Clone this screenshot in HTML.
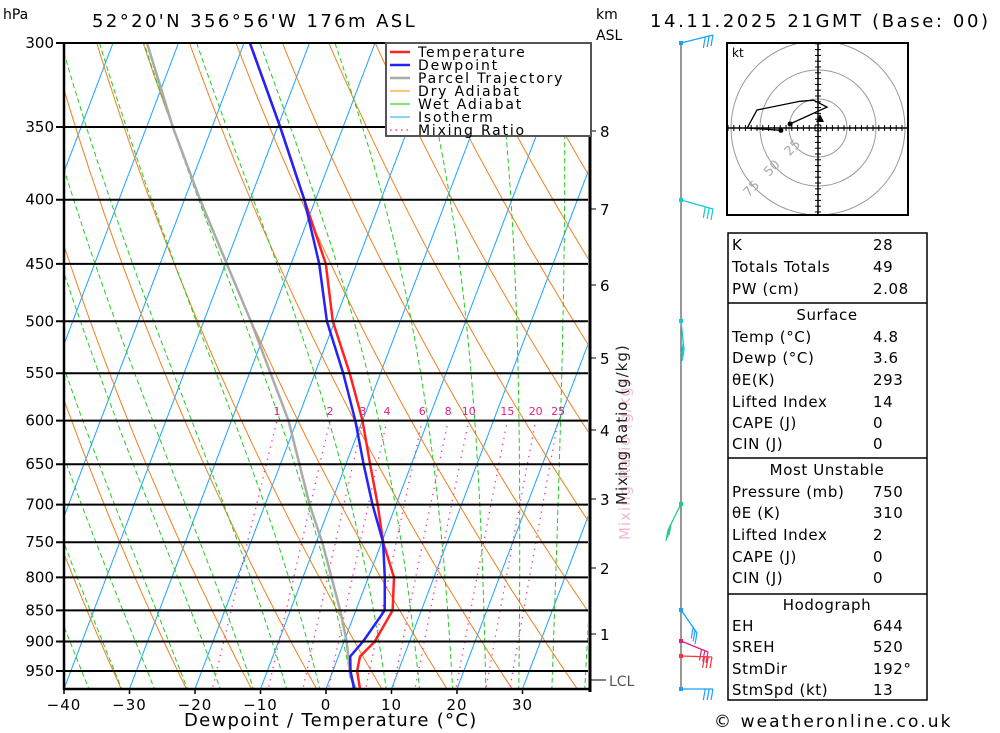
<!DOCTYPE html>
<html><head><meta charset="utf-8"><style>
body{margin:0;background:#fff;}
svg{display:block;font-family:"DejaVu Sans","Liberation Sans",sans-serif;}
</style></head><body>
<svg id="c" width="1000" height="733" viewBox="0 0 1000 733" xmlns="http://www.w3.org/2000/svg">
<defs><clipPath id="pc"><rect x="64" y="43" width="524" height="646"/></clipPath>
<clipPath id="hc"><rect x="728" y="44" width="180" height="170"/></clipPath></defs>
<g id="bg" clip-path="url(#pc)"></g>
<g id="fg"></g>
<text x="3" y="19" font-size="14">hPa</text>
<text x="92" y="27" font-size="18" letter-spacing="2.4">52°20'N  356°56'W  176m  ASL</text>
<text x="596" y="19" font-size="14">km</text>
<text x="596" y="40" font-size="14">ASL</text>
<text x="650" y="27" font-size="18" letter-spacing="2.6">14.11.2025  21GMT  (Base: 00)</text>
<text x="184" y="726" font-size="18" letter-spacing="1.3">Dewpoint / Temperature (°C)</text>
<text x="714" y="727" font-size="17" letter-spacing="2.1">© weatheronline.co.uk</text>
<text transform="translate(630,540) rotate(-90)" font-size="15" letter-spacing="1" fill="#f4b8d4">Mixing Ratio (g/kg)</text>
<text transform="translate(627,505) rotate(-90)" font-size="15" letter-spacing="1" fill="#222">Mixing Ratio (g/kg)</text>
<g>
<rect x="386" y="43" width="205" height="93" fill="#fff" stroke="#555" stroke-width="2"/>
<g font-size="14" letter-spacing="1.8">
<line x1="390" y1="52" x2="410" y2="52" stroke="#f22" stroke-width="2.5"/><text x="418" y="57">Temperature</text>
<line x1="390" y1="65" x2="410" y2="65" stroke="#22f" stroke-width="2.5"/><text x="418" y="70">Dewpoint</text>
<line x1="390" y1="78" x2="410" y2="78" stroke="#aaa" stroke-width="2.5"/><text x="418" y="83">Parcel Trajectory</text>
<line x1="390" y1="91" x2="410" y2="91" stroke="#f80" stroke-width="1"/><text x="418" y="96">Dry Adiabat</text>
<line x1="390" y1="104" x2="410" y2="104" stroke="#0c0" stroke-width="1"/><text x="418" y="109">Wet Adiabat</text>
<line x1="390" y1="117" x2="410" y2="117" stroke="#1af" stroke-width="1"/><text x="418" y="122">Isotherm</text>
<line x1="390" y1="130" x2="410" y2="130" stroke="#f3a" stroke-width="1.5" stroke-dasharray="1.5,4"/><text x="418" y="135">Mixing Ratio</text>
</g></g>
<g id="hodo"></g>
<g id="tbl"></g>
<g id="wind"></g>
</svg>
<script>
const pressures=[982,950,925,900,850,800,750,700,650,600,550,500,450,400,350,300];
const tempVals=[5.2,3.7,3.3,4.7,5.6,3.9,0.2,-2.8,-6.3,-10.0,-14.7,-20.3,-24.7,-31.7,-39.6,-49.1];
const dewVals=[4.3,2.7,1.8,2.9,4.4,2.5,0.2,-3.6,-7.3,-11.1,-15.7,-21.2,-25.7,-31.7,-39.6,-49.1];
const parcelP=[982,960,900,850,750,700,600,500,450,400,350,300];
const parcelT=[4.6,3.0,0.4,-2.4,-9.1,-13.2,-21.3,-32.8,-39.8,-47.6,-56,-64.8];
const pTicks=[300,350,400,450,500,550,600,650,700,750,800,850,900,950];
const tTicks=[-40,-30,-20,-10,0,10,20,30];
const mixRatios=[1,2,3,4,6,8,10,15,20,25];
const kmTicks=[8,7,6,5,4,3,2,1];
const kmY=[131,209,285,358,430,499,568,634];
const hodoU=[-32,-61,-52.6,-15.5,-4,7.8,-24];
const hodoV=[-2,0,15.5,23,24,18,3.5];
const tableLabels=["K","Totals Totals","PW (cm)","Surface","Temp (°C)","Dewp (°C)","θE(K)","Lifted Index","CAPE (J)","CIN (J)","Most Unstable","Pressure (mb)","θE (K)","Lifted Index","CAPE (J)","CIN (J)","Hodograph","EH","SREH","StmDir","StmSpd (kt)"];
const tableValues=["28","49","2.08","","4.8","3.6","293","14","0","0","","750","310","2","0","0","","644","520","192°","13"];

const NS="http://www.w3.org/2000/svg";
const yP=p=>43+544.8*Math.log(p/300);
const xT=(t,p)=>326+6.55*t+0.38*(689-yP(p));
function mk(tag,attrs,parent){const e=document.createElementNS(NS,tag);for(const k in attrs)e.setAttribute(k,attrs[k]);parent.appendChild(e);return e;}
const bg=document.getElementById('bg'),fg=document.getElementById('fg');
function poly(pts,stroke,w,dash,parent){let d=pts.map((q,i)=>(i?'L':'M')+q[0].toFixed(1)+','+q[1].toFixed(1)).join('');const a={d:d,fill:'none',stroke:stroke,'stroke-width':w};if(dash)a['stroke-dasharray']=dash;return mk('path',a,parent);}
for(let t=-120;t<=50;t+=10){const e=poly([[xT(t,1000),yP(1000)],[xT(t,280),yP(280)]],'#1aa3ff',1,null,bg);

}
for(let th=-40;th<=200;th+=10){const pts=[];for(let p=1000;p>=280;p-=10){const T=(th+273.15)*Math.pow(p/1000,0.286)-273.15;pts.push([xT(T,p),yP(p)]);}
const e=poly(pts,'#f08020',1,null,bg);

}
function es(T){return 6.112*Math.exp(17.67*T/(T+243.5));}
for(let tw=-35;tw<=40;tw+=5){let T=tw,pts=[];for(let p=1000;p>=280;p-=5){pts.push([xT(T,p),yP(p)]);const Tk=T+273.15,rs=0.622*es(T)/(p-es(T)),L=2.5e6;
const dTdp=(287*Tk+L*rs)/(p*(1004+L*L*rs*0.622/(287*Tk*Tk)));T-=dTdp*5;}
const e=poly(pts,'#22cc22',1,'5,3',bg);

}
function tdw(w,p){const e=w*p/(622+w);const l=Math.log(e/6.112);return 243.5*l/(17.67-l);}
mixRatios.forEach(w=>{const pts=[];for(let p=1000;p>=600;p-=20)pts.push([xT(tdw(w,p),p),yP(p)]);
const e=poly(pts,'#ff2a9a',1.3,'1.3,5',bg);


const t=mk('text',{x:xT(tdw(w,600),600),y:415,'font-size':11,fill:'#e0208a','text-anchor':'middle'},fg);t.textContent=w;

});
pTicks.forEach(p=>{const y=yP(p);const l=mk('line',{x1:56,x2:588,y1:y,y2:y,stroke:'#000','stroke-width':2},fg);


const t=mk('text',{x:54,y:y+5,'font-size':15,'text-anchor':'end'},fg);t.textContent=p;

});
let e=poly(parcelP.map((p,i)=>[xT(parcelT[i],p),yP(p)]),'#aaa',2.5,null,bg);


e=poly(pressures.map((p,i)=>[xT(tempVals[i],p),yP(p)]),'#f22',2.5,null,bg);


e=poly(pressures.map((p,i)=>[xT(dewVals[i],p),yP(p)]),'#22f',2.5,null,bg);


mk('line',{x1:64,x2:64,y1:43,y2:690,stroke:'#000','stroke-width':2.5},fg);
mk('line',{x1:63,x2:590,y1:689,y2:689,stroke:'#000','stroke-width':2.5},fg);
mk('line',{x1:590,x2:590,y1:43,y2:692,stroke:'#000','stroke-width':3},fg);
tTicks.forEach(t=>{const x=326+6.55*t;mk('line',{x1:x,x2:x,y1:689,y2:694,stroke:'#000','stroke-width':1.5},fg);
const s=mk('text',{x:x,y:710,'font-size':15,'text-anchor':'middle','letter-spacing':1},fg);s.textContent=t<0?'\u2212'+(-t):t;

});
kmTicks.forEach((k,i)=>{mk('line',{x1:590,x2:596,y1:kmY[i],y2:kmY[i],stroke:'#000'},fg);
const s=mk('text',{x:600,y:kmY[i]+6,'font-size':15},fg);s.textContent=k;

});
mk('line',{x1:590,x2:606,y1:680,y2:680,stroke:'#000'},fg);
let lc=mk('text',{x:609,y:686,'font-size':14,fill:'#555'},fg);lc.textContent='LCL';


const wg=document.getElementById('wind');
mk('line',{x1:681,x2:681,y1:43,y2:689,stroke:'#555','stroke-width':1.2},wg);
const barbs=[[43,713,35,'#1a9fff'],[200,713,209,'#1cc'],[321,684,350,'#1cc'],[504,668,530,'#2c8'],[610,697,633,'#1a9fff'],[641,708,652,'#e0207a'],[656,712,657,'#f33'],[689,713,689,'#1a9fff']];
barbs.forEach(b=>{mk('rect',{x:679,y:b[0]-2,width:4,height:4,fill:b[3]},wg);mk('line',{x1:681,y1:b[0],x2:b[1],y2:b[2],stroke:b[3],'stroke-width':1.3},wg);
for(let k=0;k<3;k++){const f=1-k*0.12;const x=681+(b[1]-681)*f,y=b[0]+(b[2]-b[0])*f;mk('line',{x1:x,y1:y,x2:x-2,y2:y+11,stroke:b[3],'stroke-width':1.2},wg);}});
const hg=document.getElementById('hodo');const cx=818,cy=128,sc=29/25;
mk('rect',{x:727,y:43,width:181,height:172,fill:'#fff',stroke:'#000','stroke-width':2},hg);
const hi=mk('g',{'clip-path':'url(#hc)'},hg);
[1,2,3].forEach(r=>mk('circle',{cx:cx,cy:cy,r:29*r,fill:'none',stroke:'#999'},hi));
mk('line',{x1:728,x2:908,y1:cy,y2:cy,stroke:'#000','stroke-width':1.5},hi);
mk('line',{x1:cx,x2:cx,y1:44,y2:214,stroke:'#000','stroke-width':1.5},hi);
for(let d=-90;d<=90;d+=5.8){mk('line',{x1:cx+d,x2:cx+d,y1:cy-3,y2:cy+3,stroke:'#000'},hi);mk('line',{x1:cx-3,x2:cx+3,y1:cy+d,y2:cy+d,stroke:'#000'},hi);}
['25','50','75'].forEach((s,i)=>{const r=29*(i+1)+3;const t=mk('text',{transform:`translate(${cx-r*0.707},${cy+r*0.707}) rotate(-45)`,'font-size':13,fill:'#aaa','text-anchor':'middle'},hi);t.textContent=s;});
let hp=poly(hodoU.map((u,i)=>[cx+u*sc,cy-hodoV[i]*sc]),'#000',1.3,null,hi);


mk('circle',{cx:cx+hodoU[0]*sc,cy:cy-hodoV[0]*sc,r:2.5},hi);
mk('circle',{cx:cx+hodoU[hodoU.length-1]*sc,cy:cy-hodoV[hodoV.length-1]*sc,r:2.5},hi);
mk('path',{d:`M${cx+2},${cy-14}l-4,8h8z`},hi);
let kt=mk('text',{x:732,y:57,'font-size':12},hg);kt.textContent='kt';
const tg=document.getElementById('tbl');
mk('rect',{x:728,y:233,width:199,height:467,fill:'#fff',stroke:'#000','stroke-width':1.5},tg);
[303,458,594].forEach(y=>mk('line',{x1:728,x2:927,y1:y,y2:y,stroke:'#000','stroke-width':1.5},tg));
const rowY=[250,272,294,320,342,363,385,407,428,449,475,497,518,540,562,583,610,631,652,674,695];
tableLabels.forEach((l,i)=>{const hdr=tableValues[i]==='';const t=mk('text',{x:hdr?827:732,y:rowY[i],'font-size':15,'letter-spacing':0.6,'text-anchor':hdr?'middle':'start'},tg);t.textContent=l;


if(!hdr){const v=mk('text',{x:873,y:rowY[i],'font-size':15,'letter-spacing':0.6},tg);v.textContent=tableValues[i];

}});
</script>
</body></html>
